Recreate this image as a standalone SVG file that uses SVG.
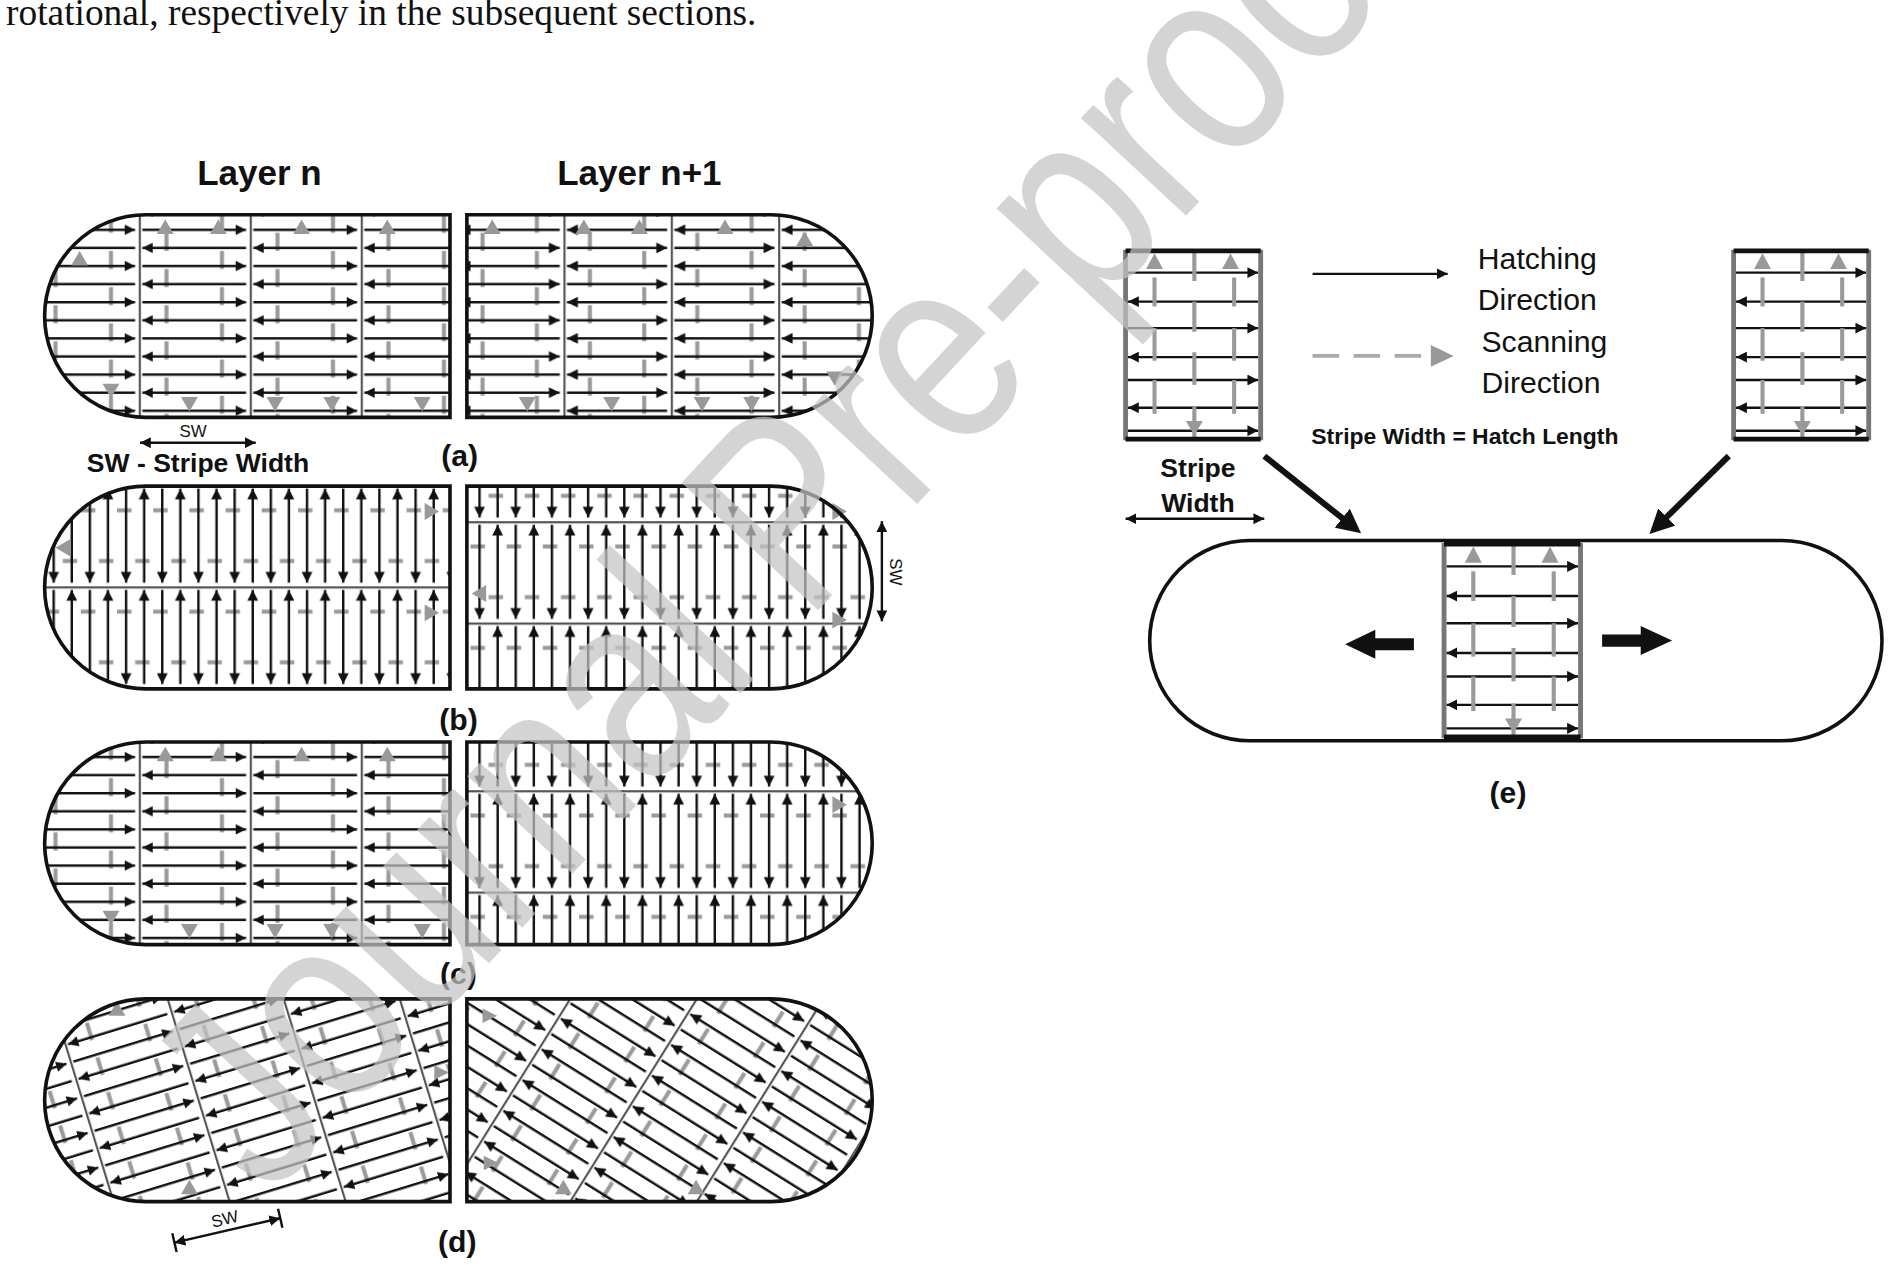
<svg xmlns="http://www.w3.org/2000/svg" xmlns:xlink="http://www.w3.org/1999/xlink" width="1888" height="1280" viewBox="0 0 1888 1280">
<style>
.h{stroke:#111;stroke-width:2;fill:none}
.g{stroke:#9a9a9a;stroke-width:3.4;fill:none}
.b{stroke:#555;stroke-width:3.6}
.o{fill:none;stroke:#111;stroke-width:3}
.t{font-family:"Liberation Sans",Arial,sans-serif;font-weight:bold;fill:#111}
.n{font-family:"Liberation Sans",Arial,sans-serif;fill:#111}
.tri{fill:#999}
</style>
<defs>
<marker id="ar" viewBox="0 0 10 10" refX="10" refY="5" markerWidth="4.5" markerHeight="4.5" orient="auto-start-reverse"><path d="M0,0L10,5L0,10z" fill="#111"/></marker>
<marker id="big" viewBox="0 0 10 10" refX="6" refY="5" markerWidth="4" markerHeight="4" orient="auto"><path d="M0,0L10,5L0,10z" fill="#111"/></marker>
<pattern id="pAL" patternUnits="userSpaceOnUse" x="23" y="5" width="92" height="30">
<line class="b" x1="0" y1="0" x2="0" y2="30"/>
<line class="g" x1="23" y1="10" x2="23" y2="25"/>
<line class="g" x1="69" y1="0" x2="69" y2="10"/>
<line class="g" x1="69" y1="25" x2="69" y2="30"/>
<line class="h" x1="3" y1="7.5" x2="89" y2="7.5" marker-end="url(#ar)"/>
<line class="h" x1="3" y1="22.5" x2="89" y2="22.5" marker-start="url(#ar)"/>
</pattern>
<pattern id="pAR" patternUnits="userSpaceOnUse" x="378" y="5" width="89" height="30">
<line class="b" x1="0" y1="0" x2="0" y2="30"/>
<line class="g" x1="22" y1="10" x2="22" y2="25"/>
<line class="g" x1="67" y1="0" x2="67" y2="10"/>
<line class="g" x1="67" y1="25" x2="67" y2="30"/>
<line class="h" x1="3" y1="7.5" x2="86" y2="7.5" marker-start="url(#ar)"/>
<line class="h" x1="3" y1="22.5" x2="86" y2="22.5" marker-end="url(#ar)"/>
</pattern>
<pattern id="pBL" patternUnits="userSpaceOnUse" x="7" y="-1" width="30" height="84">
<line class="b" x1="0" y1="0" x2="30" y2="0"/>
<line class="g" x1="0" y1="21" x2="12" y2="21"/>
<line class="g" x1="15" y1="63" x2="27" y2="63"/>
<line class="h" x1="7.5" y1="3" x2="7.5" y2="81" marker-end="url(#ar)"/>
<line class="h" x1="22.5" y1="3" x2="22.5" y2="81" marker-start="url(#ar)"/>
</pattern>
<pattern id="pBR" href="#pBL" xlink:href="#pBL" x="390" y="29"/>
<pattern id="pCR" href="#pBL" xlink:href="#pBL" x="390" y="40"/>
<pattern id="pDL" href="#pAL" xlink:href="#pAL" x="40" y="0" patternTransform="rotate(-17)"/>
<pattern id="pDR" href="#pAR" xlink:href="#pAR" x="400" y="0" patternTransform="rotate(32)"/>
<clipPath id="cL"><path d="M373,0H121A84,84 0 0 0 121,168H373Z"/></clipPath>
<clipPath id="cR"><path d="M387,0H639A84,84 0 0 1 639,168H387Z"/></clipPath>
<path id="sL" d="M373,0H121A84,84 0 0 0 121,168H373Z"/>
<path id="sR" d="M387,0H639A84,84 0 0 1 639,168H387Z"/>
<g id="box">
<rect x="0" y="0" width="112" height="158" fill="#fff"/>
<g class="h">
<line x1="2" y1="19" x2="110" y2="19" marker-end="url(#ar)"/>
<line x1="2" y1="43" x2="110" y2="43" marker-start="url(#ar)"/>
<line x1="2" y1="65" x2="110" y2="65" marker-end="url(#ar)"/>
<line x1="2" y1="89" x2="110" y2="89" marker-start="url(#ar)"/>
<line x1="2" y1="108" x2="110" y2="108" marker-end="url(#ar)"/>
<line x1="2" y1="131" x2="110" y2="131" marker-start="url(#ar)"/>
<line x1="2" y1="150" x2="110" y2="150" marker-end="url(#ar)"/>
</g>
<g class="g">
<line x1="57" y1="0" x2="57" y2="26"/><line x1="57" y1="43" x2="57" y2="68"/><line x1="57" y1="85" x2="57" y2="112"/><line x1="57" y1="130" x2="57" y2="158"/>
<line x1="24" y1="23" x2="24" y2="47"/><line x1="24" y1="65" x2="24" y2="92"/><line x1="24" y1="108" x2="24" y2="136"/>
<line x1="90" y1="23" x2="90" y2="47"/><line x1="90" y1="65" x2="90" y2="92"/><line x1="90" y1="108" x2="90" y2="136"/>
</g>
<path class="tri" d="M17,16L24,3L31,16Z M80,16L87,3L94,16Z M50,142L57,154L64,142Z"/>
<line x1="0" y1="0" x2="0" y2="158" stroke="#777" stroke-width="4"/>
<line x1="112" y1="0" x2="112" y2="158" stroke="#777" stroke-width="4"/>
<line x1="0" y1="1" x2="112" y2="1" stroke="#111" stroke-width="4"/>
<line x1="0" y1="157" x2="112" y2="157" stroke="#111" stroke-width="4"/>
</g>
</defs>
<rect width="1888" height="1280" fill="#fff"/>
<g transform="scale(1.2064)">
<text x="5" y="21" font-family="Liberation Serif,Times New Roman,serif" font-size="31" fill="#111">rotational, respectively in the subsequent sections.</text>

<g id="panel-a" transform="translate(0,178)">
<rect x="30" y="0" width="350" height="168" fill="url(#pAL)" clip-path="url(#cL)"/>
<rect x="380" y="0" width="350" height="168" fill="url(#pAR)" clip-path="url(#cR)"/>
<path class="tri" d="M130,16L137,4L144,16Z M174,16L181,4L188,16Z M243,16L250,4L257,16Z M314,16L321,4L328,16Z M59,42L66,30L73,42Z M85,140L92,152L99,140Z M150,151L157,163L164,151Z M221,151L228,163L235,151Z M268,151L275,163L282,151Z M343,151L350,163L357,151Z"/>
<path class="tri" d="M401,16L408,4L415,16Z M477,16L484,4L491,16Z M523,16L530,4L537,16Z M594,16L601,4L608,16Z M660,26L667,14L674,26Z M430,151L437,163L444,151Z M500,151L507,163L514,151Z M575,151L582,163L589,151Z M616,151L623,163L630,151Z M685,130L692,142L699,130Z"/>
<use href="#sL" class="o"/><use href="#sR" class="o"/>
</g>
<g id="panel-b" transform="translate(0,403)">
<rect x="30" y="0" width="350" height="168" fill="url(#pBL)" clip-path="url(#cL)"/>
<rect x="380" y="0" width="350" height="168" fill="url(#pBR)" clip-path="url(#cR)"/>
<path class="tri" d="M352,14L364,21L352,28Z M352,98L364,105L352,112Z M58,44L46,51L58,58Z M690,14L702,21L690,28Z M690,104L702,111L690,118Z M403,82L391,89L403,96Z"/>
<use href="#sL" class="o"/><use href="#sR" class="o"/>
</g>
<g id="panel-c" transform="translate(0,615)">
<rect x="30" y="0" width="350" height="168" fill="url(#pAL)" clip-path="url(#cL)"/>
<rect x="380" y="0" width="350" height="168" fill="url(#pCR)" clip-path="url(#cR)"/>
<path class="tri" d="M130,16L137,4L144,16Z M174,16L181,4L188,16Z M243,16L250,4L257,16Z M314,16L321,4L328,16Z M85,140L92,152L99,140Z M150,151L157,163L164,151Z M221,151L228,163L235,151Z M268,151L275,163L282,151Z M343,151L350,163L357,151Z M690,45L702,52L690,59Z"/>
<use href="#sL" class="o"/><use href="#sR" class="o"/>
</g>
<g id="panel-d" transform="translate(0,828)">
<rect x="30" y="0" width="350" height="168" fill="url(#pDL)" clip-path="url(#cL)"/>
<rect x="380" y="0" width="350" height="168" fill="url(#pDR)" clip-path="url(#cR)"/>
<path class="tri" d="M150,162L157,150L164,162Z M460,162L467,150L474,162Z M570,162L577,150L584,162Z M400,8L412,14L400,20Z M401,130L413,136L401,142Z M360,55L372,61L360,67Z M90,14L97,2L104,14Z"/>
<use href="#sL" class="o"/><use href="#sR" class="o"/>
</g>

<g id="labels">
<text class="t" x="215" y="153" font-size="29" text-anchor="middle">Layer n</text>
<text class="t" x="530" y="153" font-size="29" text-anchor="middle">Layer n+1</text>
<text class="t" x="381" y="386" font-size="25" text-anchor="middle">(a)</text>
<text class="t" x="380" y="605" font-size="25" text-anchor="middle">(b)</text>
<text class="t" x="380" y="816" font-size="25" text-anchor="middle">(c)</text>
<text class="t" x="379" y="1038" font-size="25" text-anchor="middle">(d)</text>
<text class="n" x="160" y="362" font-size="14" text-anchor="middle">SW</text>
<line class="h" x1="116" y1="367" x2="212" y2="367" marker-start="url(#ar)" marker-end="url(#ar)"/>
<text class="t" x="72" y="391" font-size="22">SW -  Stripe Width</text>
<line class="h" x1="731" y1="432" x2="731" y2="515" marker-start="url(#ar)" marker-end="url(#ar)"/>
<text class="n" x="738" y="474" font-size="14" text-anchor="middle" transform="rotate(90 738 474)">SW</text>
<g transform="rotate(-13 188 1018)">
<line class="h" x1="143" y1="1020" x2="233" y2="1020" marker-start="url(#ar)" marker-end="url(#ar)"/>
<line class="h" x1="143" y1="1012" x2="143" y2="1028"/><line class="h" x1="233" y1="1012" x2="233" y2="1028"/>
<text class="n" x="188" y="1015" font-size="14" text-anchor="middle">SW</text>
</g>
</g>

<g id="panel-e">
<use href="#box" x="933" y="207"/>
<use href="#box" x="1437" y="207"/>
<rect x="953" y="448" width="607" height="166" rx="83" fill="none" stroke="#111" stroke-width="3"/>
<use href="#box" transform="translate(1197,450) scale(1.01,1.025)"/>
<line class="h" x1="1088" y1="227" x2="1200" y2="227" marker-end="url(#ar)"/>
<line x1="1088" y1="295" x2="1186" y2="295" stroke="#aaa" stroke-width="3" stroke-dasharray="22,12"/>
<path class="tri" d="M1186,286L1205,295L1186,304Z"/>
<text class="n" x="1225" y="223" font-size="25">Hatching</text>
<text class="n" x="1225" y="257" font-size="25">Direction</text>
<text class="n" x="1228" y="292" font-size="25">Scanning</text>
<text class="n" x="1228" y="326" font-size="25">Direction</text>
<text class="t" x="1087" y="368" font-size="19">Stripe Width = Hatch Length</text>
<text class="t" x="993" y="395" font-size="22" text-anchor="middle">Stripe</text>
<text class="t" x="993" y="424" font-size="22" text-anchor="middle">Width</text>
<line class="h" x1="933" y1="430" x2="1048" y2="430" marker-start="url(#ar)" marker-end="url(#ar)"/>
<line x1="1048" y1="378" x2="1122" y2="437" stroke="#111" stroke-width="5" marker-end="url(#big)"/>
<line x1="1433" y1="378" x2="1373" y2="437" stroke="#111" stroke-width="5" marker-end="url(#big)"/>
<path d="M1172,529H1140V522L1115,534L1140,546V539H1172Z" fill="#111"/>
<path d="M1328,526H1360V519L1386,531L1360,543V536H1328Z" fill="#111"/>
<text class="t" x="1250" y="666" font-size="25" text-anchor="middle">(e)</text>
</g>

<text x="0" y="0" font-family="Liberation Sans,Arial,sans-serif" font-size="225" fill="#c4c4c4" fill-opacity="0.72" textLength="1420" lengthAdjust="spacingAndGlyphs" transform="translate(222,995) rotate(-47)">Journal Pre-proof</text>
</g>
</svg>
